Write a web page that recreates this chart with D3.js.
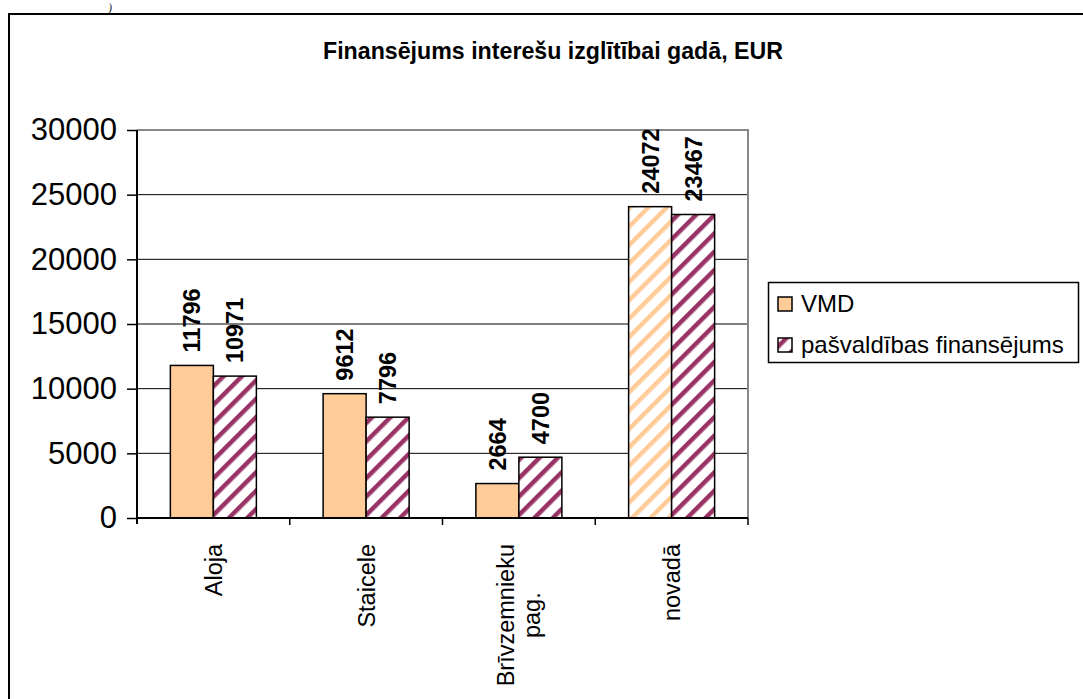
<!DOCTYPE html>
<html>
<head>
<meta charset="utf-8">
<script src="https://cdn.jsdelivr.net/npm/d3@7"></script>
<style>
  html, body { margin: 0; padding: 0; background: #fff; }
  svg { display: block; font-family: Arial, "Liberation Sans", sans-serif; }
</style>
</head>
<body>
<svg id="chart" width="1083" height="699"></svg>
<script>
// ---- data ----
const categories = ["Aloja", "Staicele", "Brīvzemnieku pag.", "novadā"];
const categoryLines = [["Aloja"], ["Staicele"], ["Brīvzemnieku", "pag."], ["novadā"]];
const seriesNames = ["VMD", "pašvaldības finansējums"];
const vmdValues = [11796, 9612, 2664, 24072];
const pasvValues = [10971, 7796, 4700, 23467];
const yTickValues = [0, 5000, 10000, 15000, 20000, 25000, 30000];
const titleText = "Finansējums interešu izglītībai gadā, EUR";

// ---- layout ----
const svg = d3.select("#chart");
const plot = { left: 137, right: 748, top: 130, bottom: 518 };

const defs = svg.append("defs");
function stripes(id, color) {
  const p = defs.append("pattern")
    .attr("id", id)
    .attr("patternUnits", "userSpaceOnUse")
    .attr("width", 13).attr("height", 13)
    .attr("patternTransform", "rotate(45)");
  p.append("rect").attr("width", 13).attr("height", 13).attr("fill", "#fff");
  p.append("rect").attr("width", 4.5).attr("height", 13).attr("fill", color);
}
stripes("purpleStripes", "#993366");
stripes("orangeStripes", "#FFCC99");

// page artifact + outer frame
svg.append("text").attr("x", 108).attr("y", 12)
  .attr("font-family", "Liberation Serif, serif").attr("font-style", "italic")
  .attr("font-size", 12).attr("fill", "#222").text(")");
svg.append("rect").attr("x", 9).attr("y", 14).attr("width", 1200).attr("height", 800)
  .attr("fill", "none").attr("stroke", "#000").attr("stroke-width", 2);

// title
svg.append("text").attr("x", 553).attr("y", 59).attr("text-anchor", "middle")
  .attr("font-weight", "bold").attr("font-size", 23.2).text(titleText);

// scales
const x0 = d3.scaleBand().domain(categories).range([plot.left, plot.right]).paddingInner(0).paddingOuter(0);
const x1 = d3.scaleBand().domain(seriesNames).range([0, x0.bandwidth()]).paddingInner(0).paddingOuter(0.776);
const y = d3.scaleLinear().domain([0, 30000]).range([plot.bottom, plot.top]);

// gridlines
svg.append("g").selectAll("line").data(yTickValues.filter(v => v > 0 && v < 30000)).join("line")
  .attr("x1", plot.left).attr("x2", plot.right)
  .attr("y1", d => y(d)).attr("y2", d => y(d))
  .attr("stroke", "#000").attr("stroke-width", 1);

// plot border top/right (gray)
svg.append("path")
  .attr("d", `M${plot.left},${y(30000)}H${plot.right}V${plot.bottom}`)
  .attr("fill", "none").attr("stroke", "#888").attr("stroke-width", 2);

// bars
const rows = categories.map((c, i) => ({ cat: c, values: [vmdValues[i], pasvValues[i]] }));
const groups = svg.append("g").selectAll("g").data(rows).join("g")
  .attr("transform", d => `translate(${x0(d.cat)},0)`);
groups.selectAll("rect").data(d => d.values.map((v, j) => ({ cat: d.cat, s: seriesNames[j], j, v })))
  .join("rect")
  .attr("x", d => x1(d.s))
  .attr("y", d => y(d.v))
  .attr("width", x1.bandwidth())
  .attr("height", d => y(0) - y(d.v))
  .attr("fill", d => d.j === 1 ? "url(#purpleStripes)" : (d.cat === "novadā" ? "url(#orangeStripes)" : "#FFCC99"))
  .attr("stroke", "#000").attr("stroke-width", 1.5);

// data labels
groups.selectAll("text.val").data(d => d.values.map((v, j) => ({ s: seriesNames[j], v })))
  .join("text").attr("class", "val")
  .attr("transform", d => `translate(${x1(d.s) + x1.bandwidth() / 2},${y(d.v) - 13}) rotate(-90)`)
  .attr("dy", "0.36em")
  .attr("font-weight", "bold").attr("font-size", 23.5)
  .text(d => d.v);

// y axis
const yAxis = d3.axisLeft(y).tickValues(yTickValues).tickSize(10).tickPadding(10).tickFormat(d3.format("d"));
const gy = svg.append("g").attr("transform", `translate(${plot.left},0)`).call(yAxis);
gy.select(".domain").attr("stroke", "#000").attr("stroke-width", 2).attr("d", `M0,${plot.top}V${plot.bottom + 6}`);
gy.selectAll(".tick line").attr("stroke", "#000").attr("stroke-width", 1.5);
gy.selectAll(".tick text").attr("font-size", 31).attr("fill", "#000").attr("font-family", "Arial, Liberation Sans, sans-serif");

// x axis line and ticks
svg.append("line").attr("x1", plot.left).attr("x2", plot.right)
  .attr("y1", plot.bottom).attr("y2", plot.bottom).attr("stroke", "#000").attr("stroke-width", 2);
svg.append("g").selectAll("line").data(categories).join("line")
  .attr("x1", d => x0(d) + x0.bandwidth()).attr("x2", d => x0(d) + x0.bandwidth())
  .attr("y1", plot.bottom).attr("y2", plot.bottom + 7)
  .attr("stroke", "#000").attr("stroke-width", 1.5);

// x labels (rotated)
const xl = svg.append("g").selectAll("text").data(categories).join("text")
  .attr("font-size", 23.5)
  .attr("transform", d => `translate(${x0(d) + x0.bandwidth() / 2},544) rotate(-90)`);
xl.each(function (d, i) {
  const lines = categoryLines[i];
  const t = d3.select(this);
  const n = lines.length;
  lines.forEach((ln, k) => {
    t.append("tspan")
      .attr("x", 0)
      .attr("text-anchor", n > 1 ? "middle" : "end")
      .attr("dy", k === 0 ? `${0.36 - (n - 1) * 0.56}em` : "1.12em")
      .text(ln);
  });
});
// center multi-line labels around the longest line
xl.filter((d, i) => categoryLines[i].length > 1).each(function () {
  const t = d3.select(this);
  const first = t.select("tspan").node();
  const w = first.getComputedTextLength();
  t.selectAll("tspan").attr("x", -w / 2);
});

// legend
const lg = svg.append("g");
lg.append("rect").attr("x", 768.5).attr("y", 282.5).attr("width", 310).attr("height", 80)
  .attr("fill", "#fff").attr("stroke", "#000").attr("stroke-width", 1.5);
const legendFills = ["#FFCC99", "url(#purpleStripes)"];
seriesNames.forEach((s, i) => {
  const yy = 297 + i * 41;
  lg.append("rect").attr("x", 778).attr("y", yy).attr("width", 14).attr("height", 14)
    .attr("fill", legendFills[i]).attr("stroke", "#000").attr("stroke-width", 1.5);
  lg.append("text").attr("x", 801).attr("y", yy + 15).attr("font-size", 24).text(s);
});
</script>
</body>
</html>
